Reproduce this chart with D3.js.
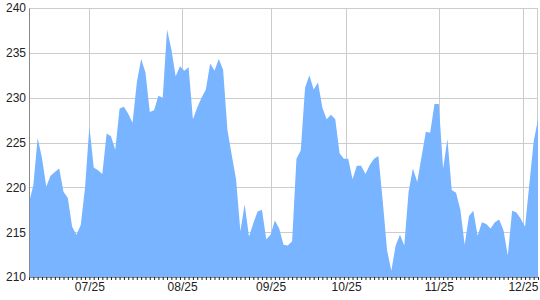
<!DOCTYPE html>
<html>
<head>
<meta charset="utf-8">
<script src="https://cdn.jsdelivr.net/npm/d3@7"></script>
<style>
	body { margin: 0; background: #fff; }
	svg { display: block; font-family: "Liberation Sans", Arial, sans-serif; }
</style>
</head>
<body>
<div id="chart"></div>
<script>
// one value per trading day
const values = [
	218.3, 220.2, 225.5, 223.3, 220.1, 221.3, 221.7, 222.1, 219.5, 218.8,
	215.6, 214.7, 215.8, 220.0, 226.8, 222.2, 221.9, 221.5, 226.0, 225.7,
	224.2, 228.8, 229.0, 228.2, 227.2, 231.7, 234.3, 232.8, 228.4, 228.6,
	230.2, 230.0, 237.6, 235.4, 232.4, 233.5, 233.0, 233.4, 227.6, 228.9,
	230.0, 230.9, 233.8, 233.0, 234.3, 233.1, 226.4, 223.6, 220.9, 215.1,
	218.1, 214.5, 216.0, 217.3, 217.5, 214.2, 214.7, 216.3, 215.4, 213.6,
	213.5, 214.0, 223.2, 224.1, 231.1, 232.5, 230.9, 231.7, 228.9, 227.6,
	228.1, 227.6, 223.8, 223.2, 223.2, 220.9, 222.4, 222.4, 221.5, 222.5,
	223.2, 223.5, 218.5, 213.0, 210.7, 213.5, 214.7, 213.5, 219.5, 222.1,
	220.6, 223.4, 226.2, 226.1, 229.3, 229.3, 222.1, 225.4, 219.7, 219.4,
	217.5, 213.6, 216.8, 217.4, 214.6, 216.1, 215.9, 215.4, 216.1, 216.4,
	215.2, 212.4, 217.4, 217.2, 216.5, 215.6, 220.4, 225.1, 227.6
];

// month labels and where they sit on the trading-day axis
const tickLabels = ['07/25', '08/25', '09/25', '10/25', '11/25', '12/25'];
const tickPos = [14, 35.5, 56, 73.5, 95, 114.5];

const yTicks = [210, 215, 220, 225, 230, 235, 240];

class AreaChart {
	constructor(elem) {
		this.container = d3.select(elem);
		this.width = 540;
		this.height = 300;
		this.margin = { top: 8, right: 2, bottom: 23, left: 29 };

		this.svg = this.container.append('svg')
			.attr('width', this.width)
			.attr('height', this.height);

		this.x = d3.scaleLinear()
			.domain([0, values.length - 1])
			.range([this.margin.left, this.width - this.margin.right]);
		this.y = d3.scaleLinear()
			.domain([yTicks[0], yTicks[yTicks.length - 1]])
			.range([this.height - this.margin.bottom, this.margin.top]);
	}

	drawGrid() {
		let x = this.x, y = this.y;
		let grid = this.svg.append('g')
			.attr('stroke', '#cccccc')
			.attr('stroke-width', 1)
			.attr('shape-rendering', 'crispEdges');

		grid.selectAll('.hline')
			.data(yTicks.slice(1))
			.enter()
			.append('line')
			.attr('x1', x.range()[0])
			.attr('x2', x.range()[1])
			.attr('y1', d => Math.round(y(d)) + 0.5)
			.attr('y2', d => Math.round(y(d)) + 0.5);

		grid.selectAll('.vline')
			.data(tickPos)
			.enter()
			.append('line')
			.attr('x1', d => Math.round(x(d)) + 0.5)
			.attr('x2', d => Math.round(x(d)) + 0.5)
			.attr('y1', y.range()[0])
			.attr('y2', y.range()[1]);

		// right border
		grid.append('line')
			.attr('x1', Math.round(x.range()[1]) - 0.5)
			.attr('x2', Math.round(x.range()[1]) - 0.5)
			.attr('y1', y.range()[0])
			.attr('y2', y.range()[1]);
	}

	drawArea() {
		let x = this.x, y = this.y;
		let area = d3.area()
			.x((d, i) => x(i))
			.y0(y(yTicks[0]))
			.y1(d => y(d));

		this.svg.append('path')
			.datum(values)
			.attr('fill', '#78b4ff')
			.attr('d', area);
	}

	drawAxes() {
		let x = this.x, y = this.y;
		let bottom = y.range()[0];

		let xTicks = this.svg.append('g')
			.attr('transform', 'translate(0,' + bottom + ')')
			.call(d3.axisBottom(x)
				.tickValues(d3.range(values.length))
				.tickSize(3)
				.tickSizeOuter(0)
				.tickFormat(''));
		xTicks.select('.domain').attr('stroke', '#888888');
		xTicks.selectAll('.tick line').attr('stroke', '#222222');

		let xLabels = this.svg.append('g')
			.attr('transform', 'translate(0,' + bottom + ')')
			.call(d3.axisBottom(x)
				.tickValues(tickPos)
				.tickSize(0)
				.tickPadding(5)
				.tickFormat((d, i) => tickLabels[i]));
		xLabels.select('.domain').remove();
		xLabels.selectAll('text')
			.attr('font-size', 12)
			.attr('font-family', '"Liberation Sans", Arial, sans-serif')
			.attr('fill', '#222222');

		let yAxis = this.svg.append('g')
			.attr('transform', 'translate(' + x.range()[0] + ',0)')
			.call(d3.axisLeft(y)
				.tickValues(yTicks)
				.tickSize(0)
				.tickSizeOuter(0)
				.tickPadding(3));
		yAxis.select('.domain').attr('stroke', '#888888');
		yAxis.selectAll('text')
			.attr('font-size', 12)
			.attr('font-family', '"Liberation Sans", Arial, sans-serif')
			.attr('fill', '#222222');
	}
}

let chart = new AreaChart('#chart');
chart.drawGrid();
chart.drawArea();
chart.drawAxes();
</script>
</body>
</html>
